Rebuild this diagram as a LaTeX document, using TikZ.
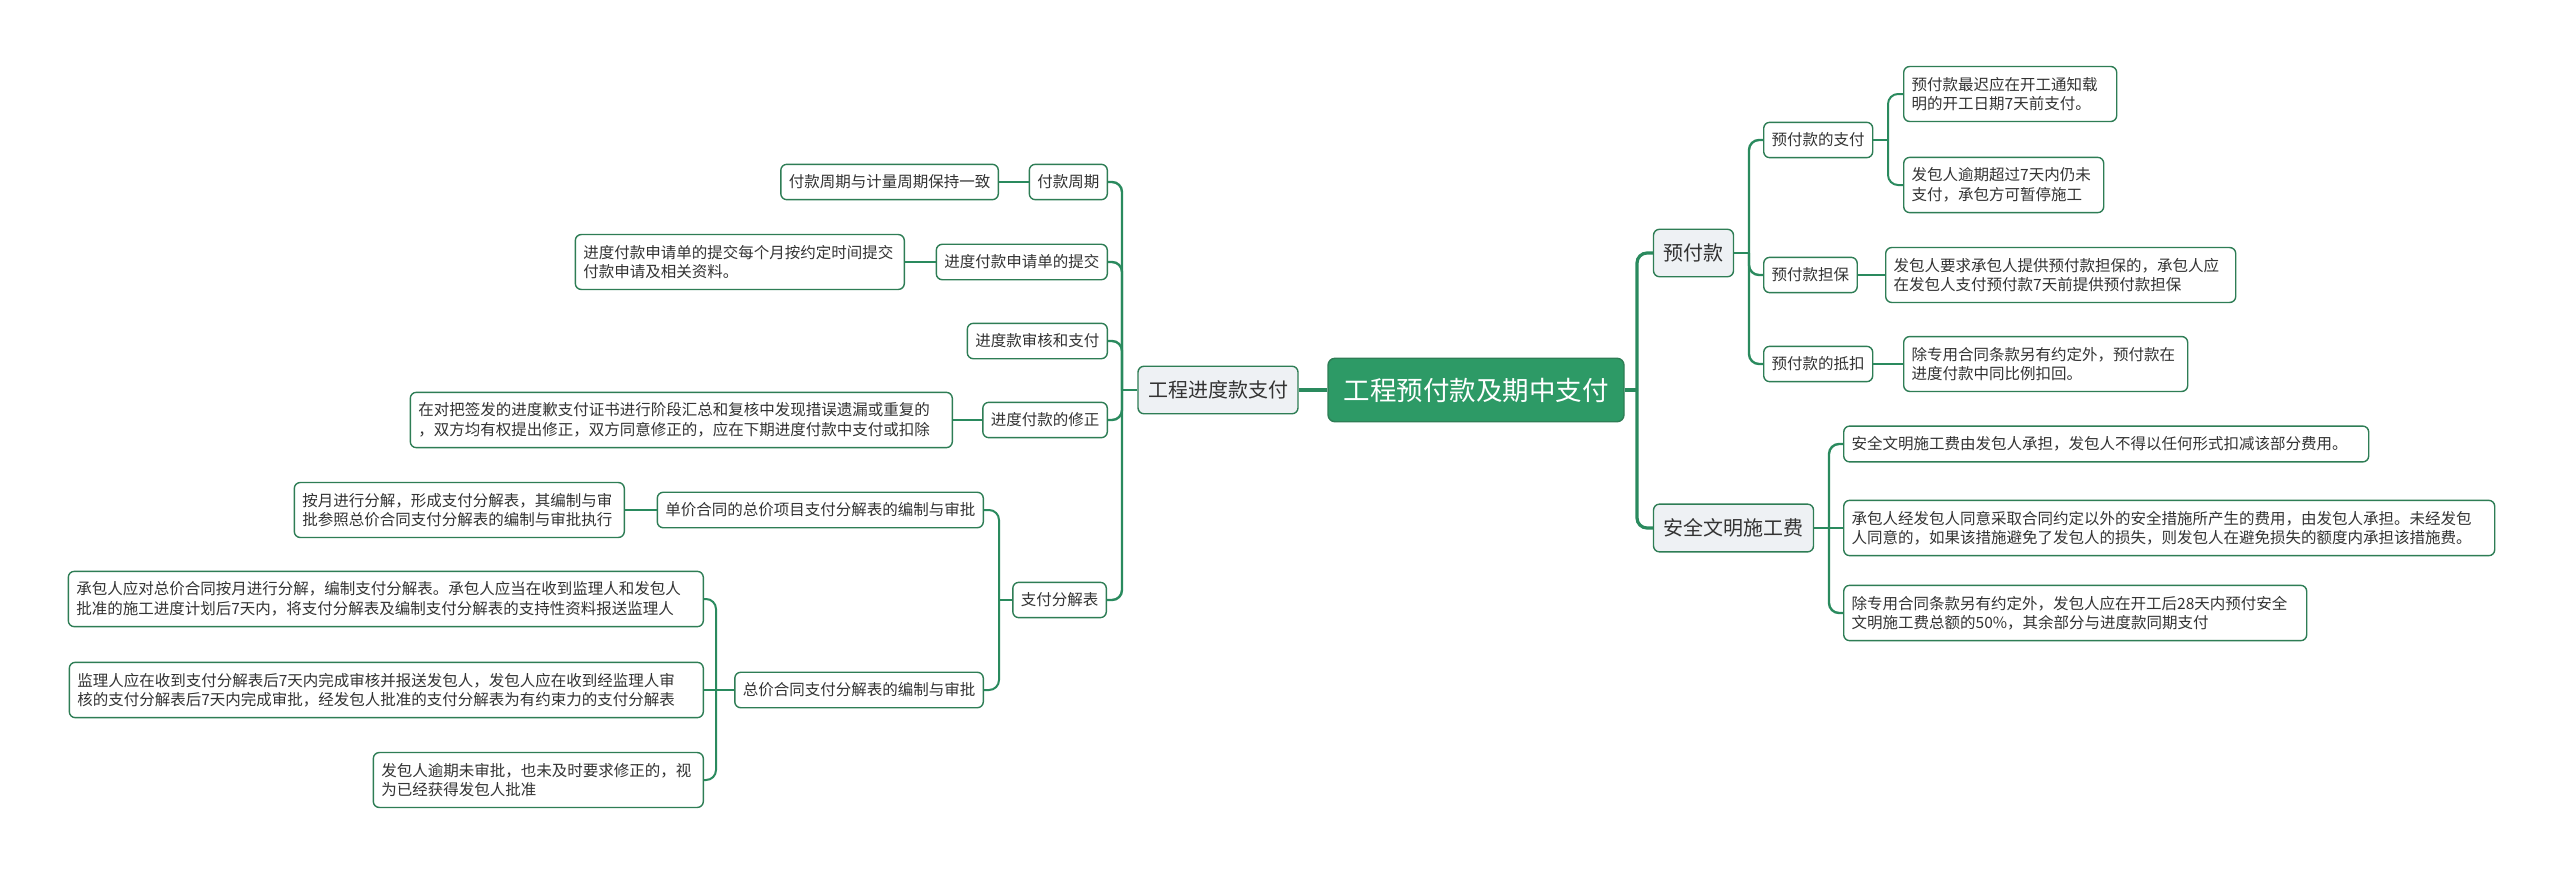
\documentclass[tikz,border=0pt]{standalone}
\usepackage{fontspec}
\setmainfont{Noto Sans CJK SC}
\definecolor{ln}{HTML}{2A8A5E}
\definecolor{bd}{HTML}{2E7D55}
\definecolor{rootf}{HTML}{2D9A66}
\definecolor{lonef}{HTML}{EEF1F4}
\definecolor{tx}{HTML}{333333}
\tikzset{
  box/.style={draw=bd, line width=1.4pt, rounded corners=6pt, fill=white, text=tx,
    font=\fontsize{15.5}{19.5}\selectfont, inner xsep=8pt, inner ysep=10.5pt, align=left},
  lone/.style={box, fill=lonef, font=\fontsize{20}{24}\selectfont, inner xsep=10pt, inner ysep=14.5pt},
  rootbox/.style={draw=bd, line width=1.4pt, fill=rootf, text=white, rounded corners=7pt,
    font=\fontsize{26.5}{30}\selectfont, inner xsep=15.5pt, inner ysep=19.5pt},
  cA/.style={draw=ln, line width=3.2pt},
  cB/.style={draw=ln, line width=2.4pt, rounded corners=10pt},
  cC/.style={draw=ln, line width=2pt, rounded corners=10pt},
}
\begin{document}
\begin{tikzpicture}[x=1pt, y=-1pt]
\useasboundingbox (0,0) rectangle (2560,875);

% root and level 1
\node[rootbox] (root) at (1476,390) {工程预付款及期中支付};
\node[lone] (L) at (1218,390) {工程进度款支付};
\node[lone] (P1) at (1693.5,253) {预付款};
\node[lone] (P2) at (1733.5,528) {安全文明施工费};

% right side level 2
\node[box, anchor=west] (Q1) at (1763,140) {预付款的支付};
\node[box, anchor=west] (Q2) at (1763,275) {预付款担保};
\node[box, anchor=west] (Q3) at (1763,364) {预付款的抵扣};

% right side level 3
\node[box, anchor=west, text width=197pt] (R1) at (1903,94) {预付款最迟应在开工通知载\\明的开工日期7天前支付。};
\node[box, anchor=west, text width=184pt] (R2) at (1903,185) {发包人逾期超过7天内仍未\\支付，承包方可暂停施工};
\node[box, anchor=west, text width=334pt] (R3) at (1885,275) {发包人要求承包人提供预付款担保的，承包人应\\在发包人支付预付款7天前提供预付款担保};
\node[box, anchor=west, text width=268pt] (R4) at (1903,364) {除专用合同条款另有约定外，预付款在\\进度付款中同比例扣回。};
\node[box, anchor=west, text width=509pt] (S1) at (1843,444) {安全文明施工费由发包人承担，发包人不得以任何形式扣减该部分费用。};
\node[box, anchor=west, text width=635pt] (S2) at (1843,528) {承包人经发包人同意采取合同约定以外的安全措施所产生的费用，由发包人承担。未经发包\\人同意的，如果该措施避免了发包人的损失，则发包人在避免损失的额度内承担该措施费。};
\node[box, anchor=west, text width=447pt] (S3) at (1843,613) {除专用合同条款另有约定外，发包人应在开工后28天内预付安全\\文明施工费总额的50\%，其余部分与进度款同期支付};

% left side level 2
\node[box, anchor=east] (K1) at (1108,182) {付款周期};
\node[box, anchor=east] (K2) at (1108,262) {进度付款申请单的提交};
\node[box, anchor=east] (K3) at (1108,341) {进度款审核和支付};
\node[box, anchor=east] (K4) at (1108,420) {进度付款的修正};
\node[box, anchor=east] (K5) at (1107,600) {支付分解表};

% left side level 3
\node[box, anchor=east] (M1) at (999,182) {付款周期与计量周期保持一致};
\node[box, anchor=east, text width=313pt] (M2) at (905,262) {进度付款申请单的提交每个月按约定时间提交\\付款申请及相关资料。};
\node[box, anchor=east, text width=526pt] (M4) at (953,420) {在对把签发的进度歉支付证书进行阶段汇总和复核中发现措误遗漏或重复的\\，双方均有权提出修正，双方同意修正的，应在下期进度付款中支付或扣除};
\node[box, anchor=east] (T1) at (984,510) {单价合同的总价项目支付分解表的编制与审批};
\node[box, anchor=east] (T2) at (984,690) {总价合同支付分解表的编制与审批};

% left side level 4
\node[box, anchor=east, text width=314pt] (N1) at (625,510) {按月进行分解，形成支付分解表，其编制与审\\批参照总价合同支付分解表的编制与审批执行};
\node[box, anchor=east, text width=619pt] (U1) at (704,599) {承包人应对总价合同按月进行分解，编制支付分解表。承包人应当在收到监理人和发包人\\批准的施工进度计划后7天内，将支付分解表及编制支付分解表的支持性资料报送监理人};
\node[box, anchor=east, text width=618pt] (U2) at (704,690) {监理人应在收到支付分解表后7天内完成审核并报送发包人，发包人应在收到经监理人审\\核的支付分解表后7天内完成审批，经发包人批准的支付分解表为有约束力的支付分解表};
\node[box, anchor=east, text width=314pt] (U3) at (704,780) {发包人逾期未审批，也未及时要求修正的，视\\为已经获得发包人批准};

% fork points
\coordinate (fR) at (1637,390);
\coordinate (fL) at (1122,390);
\coordinate (fP1) at (1749,253);
\coordinate (fP2) at (1829,528);
\coordinate (fQ1) at (1888,140);
\coordinate (fK5) at (999,600);
\coordinate (fT2) at (716,690);

% connectors: root level
\draw[cA] (root.west) -- (L.east);
\draw[cA] (root.east) -- (fR);
\draw[cA, rounded corners=10pt] (fR) |- (P1.west);
\draw[cA, rounded corners=10pt] (fR) |- (P2.west);

% left level 2
\draw[cB] (L.west) -- (fL);
\draw[cB] (fL) |- (K1.east);
\draw[cB] (fL) |- (K2.east);
\draw[cB] (fL) |- (K3.east);
\draw[cB] (fL) |- (K4.east);
\draw[cB] (fL) |- (K5.east);

% right level 2
\draw[cB] (P1.east) -- (fP1);
\draw[cB] (fP1) |- (Q1.west);
\draw[cB] (fP1) |- (Q2.west);
\draw[cB] (fP1) |- (Q3.west);
\draw[cB] (P2.east) -- (S2.west);
\draw[cB] (fP2) |- (S1.west);
\draw[cB] (fP2) |- (S3.west);

% right level 3
\draw[cC] (Q1.east) -- (fQ1);
\draw[cC] (fQ1) |- (R1.west);
\draw[cC] (fQ1) |- (R2.west);
\draw[cC] (Q2.east) -- (R3.west);
\draw[cC] (Q3.east) -- (R4.west);

% left level 3
\draw[cC] (K1.west) -- (M1.east);
\draw[cC] (K2.west) -- (M2.east);
\draw[cC] (K4.west) -- (M4.east);
\draw[cC] (K5.west) -- (fK5);
\draw[cC] (fK5) |- (T1.east);
\draw[cC] (fK5) |- (T2.east);

% left level 4
\draw[cC] (T1.west) -- (N1.east);
\draw[cC] (T2.west) -- (U2.east);
\draw[cC] (fT2) |- (U1.east);
\draw[cC] (fT2) |- (U3.east);
\end{tikzpicture}
\end{document}
